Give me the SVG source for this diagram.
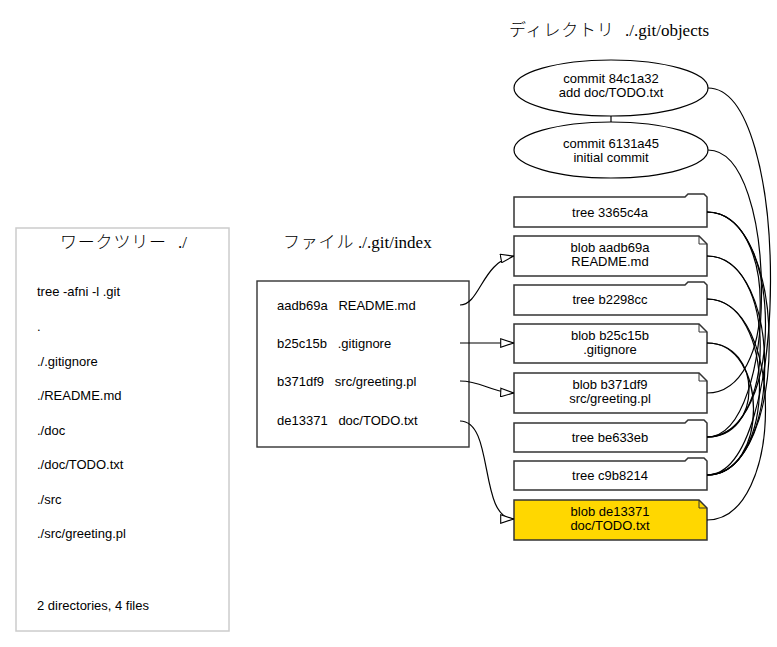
<svg xmlns="http://www.w3.org/2000/svg" width="777" height="647" viewBox="0 0 777 647">
<style>
.t{font-family:"Liberation Sans",Arial,sans-serif;font-size:13px;fill:#000}
.c{text-anchor:middle}
.ttl{font-family:"Liberation Serif","Noto Sans CJK JP",serif;font-size:17px;fill:#000}
.jp{font-family:"Noto Sans CJK JP",sans-serif;font-size:17px;font-weight:300;letter-spacing:0.8px}
.node{fill:#fff;stroke:#333;stroke-width:1.5}
.fold{fill:none;stroke:#333;stroke-width:1}
.e{fill:none;stroke:#000;stroke-width:1.2}
</style>
<defs>
<marker id="oa" viewBox="0 0 14 10" refX="14" refY="5" markerWidth="14" markerHeight="10" markerUnits="userSpaceOnUse" orient="auto">
<path d="M0.7,0.7 L13.5,5 L0.7,9.3 Z" fill="#fff" stroke="#000" stroke-width="1.1"/>
</marker>
</defs>
<rect width="777" height="647" fill="#fff"/>

<g id="worktree">
<rect x="16" y="228" width="213" height="403" fill="#fff" stroke="#ccc" stroke-width="1.5"/>
<text class="ttl" x="60" y="248"><tspan class="jp">ワークツリー</tspan><tspan x="178">./</tspan></text>
<text class="t" x="37" y="296">tree -afni -l .git</text>
<text class="t" x="37" y="331">.</text>
<text class="t" x="37" y="365.5">./.gitignore</text>
<text class="t" x="37" y="400">./README.md</text>
<text class="t" x="37" y="434.5">./doc</text>
<text class="t" x="37" y="469">./doc/TODO.txt</text>
<text class="t" x="37" y="503.5">./src</text>
<text class="t" x="37" y="538">./src/greeting.pl</text>
<text class="t" x="37" y="610">2 directories, 4 files</text>
</g>

<g id="index">
<text class="ttl" x="283" y="248"><tspan class="jp">ファイル</tspan><tspan x="358">./.git/index</tspan></text>
<rect x="257" y="281" width="212" height="166" fill="#fff" stroke="#333" stroke-width="1.4"/>
<text class="t" x="277" y="309.5">aadb69a<tspan x="338.4">README.md</tspan></text>
<text class="t" x="277" y="347.5">b25c15b<tspan x="337.7">.gitignore</tspan></text>
<text class="t" x="277" y="385.5">b371df9<tspan x="334.8">src/greeting.pl</tspan></text>
<text class="t" x="277" y="424.5">de13371<tspan x="338.4">doc/TODO.txt</tspan></text>
</g>

<text class="ttl" x="509" y="36"><tspan class="jp">ディレクトリ</tspan><tspan x="625">./.git/objects</tspan></text>

<g id="commit-84c1a32">
<ellipse cx="611" cy="88" rx="97" ry="28" fill="#fff" stroke="#000" stroke-width="1.2"/>
<text class="t c" x="611" y="83">commit 84c1a32</text>
<text class="t c" x="611" y="97">add doc/TODO.txt</text>
</g>
<g id="commit-6131a45">
<ellipse cx="611" cy="150" rx="97" ry="28" fill="#fff" stroke="#000" stroke-width="1.2"/>
<text class="t c" x="611" y="148">commit 6131a45</text>
<text class="t c" x="611" y="162">initial commit</text>
</g>

<g id="tree-3365c4a">
<path class="node" d="M514,197 L685,197 L688,194 L704,194 L707,197 L707,227 L514,227 Z"/>
<text class="t c" x="610" y="216.5">tree 3365c4a</text>
</g>
<g id="blob-aadb69a">
<path class="node" d="M514,236 L699,236 L707,244 L707,276 L514,276 Z"/>
<path class="fold" d="M699,236 L699,244 L707,244"/>
<text class="t c" x="610" y="252">blob aadb69a</text>
<text class="t c" x="610" y="266">README.md</text>
</g>
<g id="tree-b2298cc">
<path class="node" d="M514,285 L685,285 L688,282 L704,282 L707,285 L707,315 L514,315 Z"/>
<text class="t c" x="610" y="303.5">tree b2298cc</text>
</g>
<g id="blob-b25c15b">
<path class="node" d="M514,324 L699,324 L707,332 L707,363 L514,363 Z"/>
<path class="fold" d="M699,324 L699,332 L707,332"/>
<text class="t c" x="610" y="340">blob b25c15b</text>
<text class="t c" x="610" y="354">.gitignore</text>
</g>
<g id="blob-b371df9">
<path class="node" d="M514,373 L699,373 L707,381 L707,413 L514,413 Z"/>
<path class="fold" d="M699,373 L699,381 L707,381"/>
<text class="t c" x="610" y="389">blob b371df9</text>
<text class="t c" x="610" y="403">src/greeting.pl</text>
</g>
<g id="tree-be633eb">
<path class="node" d="M514,423 L685,423 L688,420 L704,420 L707,423 L707,452 L514,452 Z"/>
<text class="t c" x="610" y="441.5">tree be633eb</text>
</g>
<g id="tree-c9b8214">
<path class="node" d="M514,461 L685,461 L688,458 L704,458 L707,461 L707,490 L514,490 Z"/>
<text class="t c" x="610" y="479.5">tree c9b8214</text>
</g>
<g id="blob-de13371">
<path d="M514,500 L699,500 L707,508 L707,540 L514,540 Z" fill="#ffd700" stroke="#333" stroke-width="1.5"/>
<path class="fold" d="M699,500 L699,508 L707,508"/>
<text class="t c" x="610" y="516">blob de13371</text>
<text class="t c" x="610" y="530">doc/TODO.txt</text>
</g>

<g id="connectors">
<path class="e" d="M611,116 L611,122"/>
<path class="e" d="M460,305 C480,305 482,262 514,256" marker-end="url(#oa)"/>
<path class="e" d="M460,343 L514,343" marker-end="url(#oa)"/>
<path class="e" d="M460,381 C482,381 490,392 514,393" marker-end="url(#oa)"/>
<path class="e" d="M460,421 C495,421 478,519 514,519" marker-end="url(#oa)"/>

<path class="e" d="M708,88 C792,88 791,475 707,475"/>
<path class="e" d="M708,150 C780,150 779,437 707,437"/>
<path class="e" d="M707,475 C784,475 784,256 707,256"/>
<path class="e" d="M707,475 C769,475 769,343 707,343"/>
<path class="e" d="M707,475 C777,475 777,299 707,299"/>
<path class="e" d="M707,475 C790,475 790,212 707,212"/>
<path class="e" d="M707,437 C778,437 778,256 707,256"/>
<path class="e" d="M707,437 C763,437 763,343 707,343"/>
<path class="e" d="M707,437 C785,437 785,212 707,212"/>
<path class="e" d="M707,212 C778,212 778,393 707,393"/>
<path class="e" d="M707,299 C785,299 785,520 707,520"/>
</g>
</svg>
